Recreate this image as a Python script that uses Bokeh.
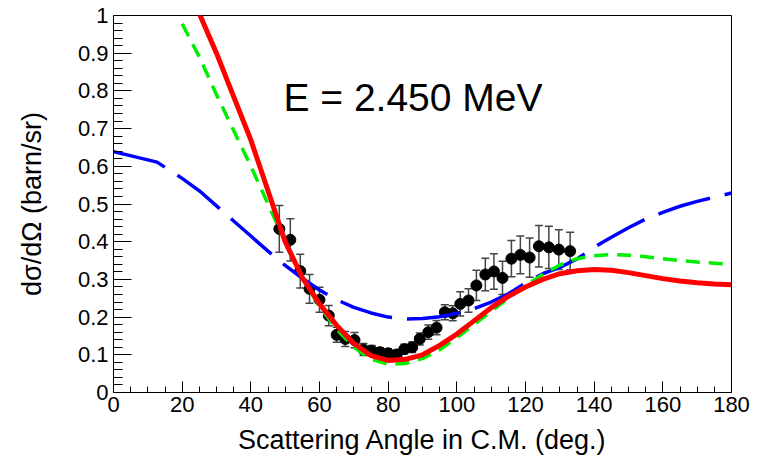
from bokeh.plotting import figure
from bokeh.models import Range1d, Whisker, TeeHead, ColumnDataSource, Label, FixedTicker
from bokeh.embed import file_html
from bokeh.resources import INLINE

# ---- data ----
ang_data = [48.3, 51.5, 54.4, 57.1, 60.0, 62.7, 65.0, 67.5, 70.2, 72.8, 75.2, 77.6, 80.0, 82.5,
            84.7, 87.0, 89.2, 91.7, 94.1, 96.5, 98.8, 101.0, 103.4, 105.7, 108.3, 110.8, 113.3,
            115.9, 118.5, 121.2, 123.9, 126.8, 129.7, 133.0]
xs_data = [0.434, 0.405, 0.322, 0.275, 0.246, 0.204, 0.153, 0.142, 0.139, 0.114, 0.111, 0.107,
           0.104, 0.101, 0.115, 0.120, 0.142, 0.160, 0.172, 0.213, 0.210, 0.235, 0.244, 0.284,
           0.313, 0.321, 0.304, 0.355, 0.365, 0.358, 0.388, 0.385, 0.379, 0.375]
err_data = [0.062, 0.056, 0.045, 0.038, 0.033, 0.027, 0.020, 0.020, 0.020, 0.016, 0.014, 0.012,
            0.012, 0.012, 0.013, 0.014, 0.016, 0.019, 0.019, 0.020, 0.020, 0.032, 0.031, 0.040,
            0.043, 0.047, 0.044, 0.048, 0.050, 0.052, 0.055, 0.056, 0.053, 0.050]

ang_red = [20, 25, 30, 35, 40, 45, 50, 55, 60, 65, 70, 75, 80, 85, 90, 95, 100, 105, 110, 115,
           120, 125, 130, 135, 140, 145, 150, 155, 160, 165, 170, 175, 180]
xs_red = [1.13, 1.005, 0.90, 0.785, 0.67, 0.535, 0.40, 0.305, 0.235, 0.178, 0.130, 0.098, 0.085,
          0.088, 0.100, 0.125, 0.155, 0.190, 0.225, 0.255, 0.280, 0.300, 0.315, 0.323, 0.326,
          0.324, 0.318, 0.310, 0.302, 0.296, 0.291, 0.288, 0.286]

ang_green = [20, 25, 30, 35, 40, 45, 50, 55, 60, 65, 70, 75, 80, 85, 90, 95, 100, 105, 110, 115,
             120, 125, 130, 135, 140, 145, 150, 155, 160, 165, 170, 175, 180]
xs_green = [0.978, 0.89, 0.79, 0.695, 0.60, 0.50, 0.40, 0.305, 0.228, 0.168, 0.120, 0.088, 0.075,
            0.077, 0.090, 0.113, 0.145, 0.180, 0.215, 0.250, 0.283, 0.313, 0.338, 0.355, 0.363,
            0.366, 0.364, 0.360, 0.355, 0.350, 0.346, 0.343, 0.340]

ang_blue = [0, 12.7, 20, 25, 30, 35, 40, 45, 50, 55, 60, 65, 70, 75, 80, 85, 90, 95, 100, 105,
            110, 115, 120, 125, 130, 135, 140, 145, 150, 155, 160, 165, 170, 175, 180]
xs_blue = [0.639, 0.611, 0.568, 0.535, 0.495, 0.455, 0.415, 0.375, 0.337, 0.303, 0.272, 0.246,
           0.226, 0.211, 0.200, 0.195, 0.196, 0.201, 0.210, 0.222, 0.240, 0.262, 0.290, 0.315,
           0.332, 0.354, 0.385, 0.412, 0.437, 0.460, 0.478, 0.494, 0.507, 0.518, 0.529]

x_ticks = [0, 20, 40, 60, 80, 100, 120, 140, 160, 180]
y_ticks = [0, 0.1, 0.2, 0.3, 0.4, 0.5, 0.6, 0.7, 0.8, 0.9, 1.0]
y_tick_labels = ["0", "0.1", "0.2", "0.3", "0.4", "0.5", "0.6", "0.7", "0.8", "0.9", "1"]

FONT = "Liberation Sans"

p = figure(width=761, height=463, output_backend="svg", toolbar_location=None,
           x_range=Range1d(0, 180), y_range=Range1d(0, 1),
           min_border_left=113, min_border_right=30, min_border_top=15, min_border_bottom=71)
p.background_fill_color = "white"
p.border_fill_color = "white"
p.outline_line_color = "black"
p.outline_line_width = 1
p.grid.visible = False

# axes
xa = p.xaxis[0]
ya = p.yaxis[0]
xa.ticker = FixedTicker(ticks=x_ticks, minor_ticks=[i * 5 for i in range(37)])
ya.ticker = FixedTicker(ticks=y_ticks, minor_ticks=[i * 0.02 for i in range(51)])
xa.major_label_overrides = {t: str(t) for t in x_ticks}
ya.major_label_overrides = {t: l for t, l in zip(y_ticks, y_tick_labels)}
for ax in (xa, ya):
    ax.axis_line_color = "black"
    ax.major_tick_line_color = "black"
    ax.minor_tick_line_color = "black"
    ax.major_tick_out = 0
    ax.minor_tick_out = 0
    ax.major_label_text_font = FONT
    ax.major_label_text_font_size = "22px"
    ax.major_label_text_color = "black"
    ax.axis_label_text_font = FONT
    ax.axis_label_text_font_size = "27px"
    ax.axis_label_text_font_style = "normal"
    ax.axis_label_text_color = "black"
xa.major_tick_in = 11
xa.minor_tick_in = 6
ya.major_tick_in = 18
ya.minor_tick_in = 9
xa.major_label_standoff = 4
ya.major_label_standoff = 5
xa.axis_label_standoff = 10
ya.axis_label_standoff = 28
xa.axis_label = "Scattering Angle in C.M. (deg.)"
ya.axis_label = "dσ/dΩ (barn/sr)"

# data with error bars
src = ColumnDataSource(data=dict(
    x=ang_data, y=xs_data,
    lo=[v - e for v, e in zip(xs_data, err_data)],
    hi=[v + e for v, e in zip(xs_data, err_data)]))
w = Whisker(source=src, base="x", upper="hi", lower="lo", line_color="#444444", line_width=1.5,
            upper_head=TeeHead(size=8, line_color="#444444", line_width=1.5),
            lower_head=TeeHead(size=8, line_color="#444444", line_width=1.5))
p.add_layout(w)
p.scatter("x", "y", source=src, size=11, color="black")

# theory curves
p.line(ang_blue, xs_blue, line_color="#0000ff", line_width=3.5, line_dash="54 15")
p.line(ang_green, xs_green, line_color="#00ee00", line_width=3.5, line_dash="14 9")
p.line(ang_red, xs_red, line_color="#ff0000", line_width=5)

p.add_layout(Label(x=49.5, y=0.782, text="E = 2.450 MeV", text_font=FONT,
                   text_font_size="39px", text_color="black", text_baseline="alphabetic"))

open("out.html", "w").write(file_html(p, INLINE))
